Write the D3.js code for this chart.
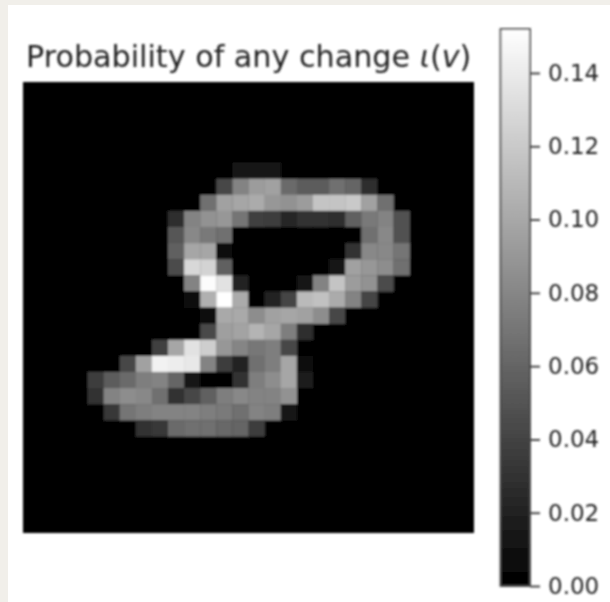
<!DOCTYPE html>
<html><head><meta charset="utf-8">
<style>html,body{margin:0;padding:0;background:#fff}svg{display:block}</style>
<script src="https://cdn.jsdelivr.net/npm/d3@7"></script></head>
<body><div id="chart"></div>
<script>
const titleText = "Probability of any change ";
const titleParts = [["ι", "italic"], ["(", "normal"], ["v", "italic"], [")", "normal"]];
const gridSize = 28;
const colorMax = 0.152;
const colorTicks = [0, 0.02, 0.04, 0.06, 0.08, 0.10, 0.12, 0.14];
const firstRow = 5;
const rowStartColumn = [13,12,11,9,9,9,9,10,10,11,11,8,6,4,4,5,7];
// probability x 1000
const rowValues = [
 [13,13,13],
 [42,78,93,96,63,54,54,66,60,27],
 [66,96,99,102,90,87,93,117,117,120,96,66],
 [27,78,87,90,69,39,36,24,30,30,27,57,72,78,48],
 [51,81,72,66,0,0,0,0,0,0,0,0,66,81,48],
 [57,99,99,5,0,0,0,0,0,0,0,30,81,81,69],
 [45,129,126,57,0,0,0,0,0,0,15,96,90,84,66],
 [78,150,135,21,0,0,0,15,78,117,93,87,45],
 [6,105,153,102,0,19,41,111,115,102,78,41],
 [9,101,101,84,96,99,96,84,42],
 [43,95,97,107,99,75,27],
 [39,99,135,123,90,79,71,75,42],
 [42,96,144,141,138,78,36,21,67,75,99,9],
 [36,54,63,75,78,60,15,0,0,30,75,84,99,18],
 [30,78,84,81,66,30,42,57,75,81,78,78,87],
 [33,69,75,78,78,78,75,73,66,78,75,12],
 [30,33,63,66,66,62,60,36]
];

const W = 610, H = 602;
const box = {x0: 23, x1: 474, y0: 82, y1: 533};
const bar = {x0: 500.5, x1: 530, y0: 29, y1: 586};

const svg = d3.select("#chart").append("svg").attr("width", W).attr("height", H);
const defs = svg.append("defs");
defs.append("filter").attr("id", "soft").attr("x", "-5%").attr("y", "-5%").attr("width", "110%").attr("height", "110%")
  .append("feGaussianBlur").attr("stdDeviation", 1.1);

svg.append("rect").attr("width", W).attr("height", H).attr("fill", "#f1efea");
svg.append("rect").attr("x", 8).attr("y", 5).attr("width", W - 8).attr("height", H - 5).attr("fill", "#fff");

const root = svg.append("g").attr("filter", "url(#soft)");

const x = d3.scaleLinear().domain([0, gridSize]).range([box.x0, box.x1]);
const y = d3.scaleLinear().domain([0, gridSize]).range([box.y0, box.y1]);
const color = d3.scaleLinear().domain([0, colorMax]).range(["#000", "#fff"]).clamp(true);

root.append("rect").attr("x", box.x0).attr("y", box.y0)
  .attr("width", box.x1 - box.x0).attr("height", box.y1 - box.y0).attr("fill", "#000");

const cells = rowValues.flatMap((vals, r) => vals.map((v, i) => ({
  row: firstRow + r, col: rowStartColumn[r] + i, value: v / 1000
})));
root.append("g").selectAll("rect").data(cells).join("rect")
  .attr("x", d => x(d.col)).attr("y", d => y(d.row))
  .attr("width", x(1) - x(0) + 0.3).attr("height", y(1) - y(0) + 0.3)
  .attr("fill", d => color(d.value));

const title = root.append("text").attr("x", 26).attr("y", 67)
  .attr("font-family", "DejaVu Sans").attr("font-size", 30.2).attr("fill", "#222");
title.append("tspan").text(titleText);
title.selectAll("tspan.m").data(titleParts).join("tspan").attr("class", "m")
  .attr("font-style", d => d[1]).text(d => d[0]);

const cbScale = d3.scaleLinear().domain([0, colorMax]).range([bar.y1, bar.y0]);
const grad = defs.append("linearGradient").attr("id", "cb").attr("x1", 0).attr("y1", 1).attr("x2", 0).attr("y2", 0);
grad.selectAll("stop").data([0, colorMax]).join("stop")
  .attr("offset", d => d / colorMax).attr("stop-color", d => color(d));
root.append("rect").attr("x", bar.x0).attr("y", bar.y0)
  .attr("width", bar.x1 - bar.x0).attr("height", bar.y1 - bar.y0)
  .attr("fill", "url(#cb)").attr("stroke", "#444").attr("stroke-width", 1.8);

const axis = d3.axisRight(cbScale).tickValues(colorTicks).tickFormat(d3.format(".2f")).tickSize(10).tickPadding(8);
const ag = root.append("g").attr("transform", `translate(${bar.x1},0)`).call(axis);
ag.select(".domain").remove();
ag.selectAll("line").attr("stroke", "#333").attr("stroke-width", 1.8);
ag.selectAll("text").attr("font-family", "DejaVu Sans").attr("font-size", 23).attr("fill", "#222");
</script></body></html>
